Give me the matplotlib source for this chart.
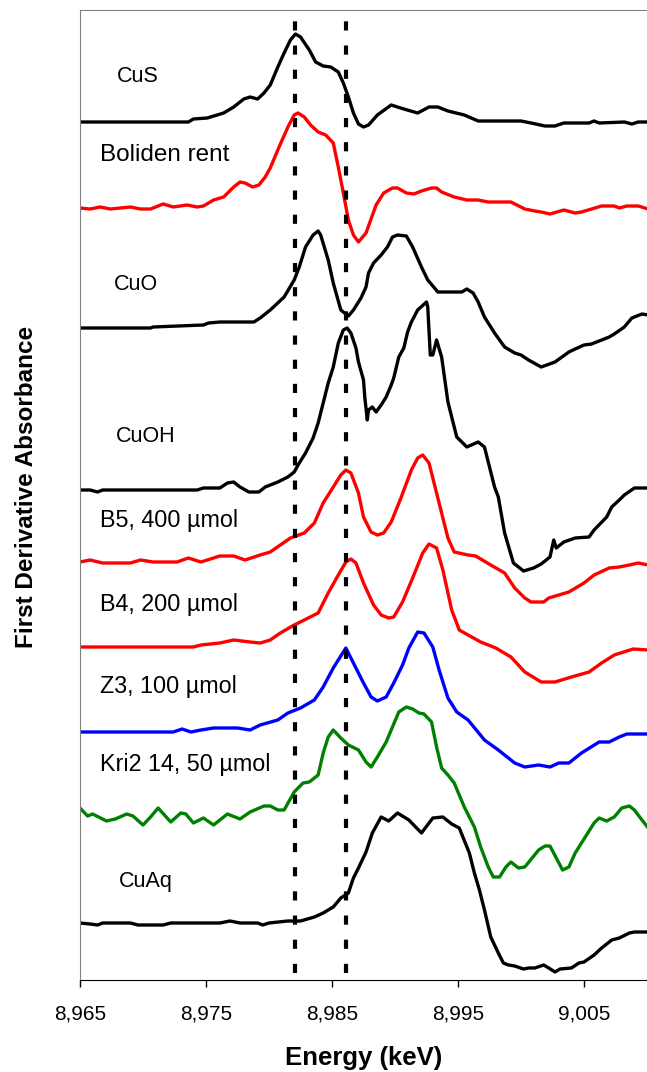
import matplotlib
matplotlib.use("Agg")
import matplotlib.pyplot as plt
from matplotlib.ticker import FuncFormatter

plt.rcParams['font.family'] = ['Liberation Sans', 'DejaVu Sans']

# spectra (energy in keV, stacked first-derivative, arbitrary units)
cus_e = [8965.0, 8973.6, 8974.0, 8975.1, 8976.4, 8977.2, 8978.0, 8978.5, 8979.1, 8979.6, 8980.1, 8980.7,
         8981.2, 8981.7, 8982.1, 8982.5, 8983.2, 8983.7, 8984.3, 8984.9, 8985.5, 8985.9, 8986.3, 8986.7,
         8987.1, 8987.5, 8987.9, 8988.6, 8989.7, 8990.7, 8991.8, 8992.7, 8993.4, 8994.2, 8995.5, 8996.6,
         9000.0, 9000.8, 9001.9, 9002.7, 9003.4, 9005.4, 9005.8, 9006.2, 9008.2, 9008.8, 9009.3, 9010.0]
cus_y = [858, 858, 861, 862, 867, 873, 881, 883, 881, 887, 895, 913,
         927, 940, 946, 943, 930, 918, 914, 913, 908, 897, 883, 867,
         856, 853, 855, 865, 875, 871, 867, 873, 873, 869, 865, 859,
         859, 857, 854, 854, 857, 857, 859, 857, 858, 856, 858, 858]

boliden_e = [8965.0, 8965.8, 8966.6, 8967.4, 8968.2, 8969.0, 8969.8, 8970.6, 8971.6, 8972.4, 8973.5, 8974.3,
             8974.8, 8975.6, 8976.4, 8977.2, 8977.7, 8978.1, 8978.7, 8979.2, 8979.7, 8980.1, 8980.8, 8981.5,
             8982.0, 8982.3, 8982.8, 8983.3, 8983.9, 8984.5, 8985.1, 8985.5, 8985.9, 8986.3, 8986.7, 8987.1,
             8987.7, 8988.5, 8989.1, 8989.8, 8990.2, 8990.9, 8991.5, 8992.1, 8992.9, 8993.3, 8993.7, 8994.7,
             8995.7, 8996.6, 8997.4, 8999.2, 9000.3, 9001.1, 9001.6, 9002.3, 9003.4, 9004.3, 9004.8, 9006.4,
             9007.4, 9007.8, 9008.4, 9009.3, 9010.1]
boliden_y = [772, 771, 773, 771, 772, 773, 771, 771, 776, 773, 775, 773,
             774, 780, 783, 793, 798, 797, 793, 795, 803, 812, 833, 853,
             865, 867, 863, 855, 848, 845, 837, 813, 787, 760, 745, 738,
             747, 775, 787, 792, 792, 787, 786, 789, 792, 792, 788, 783,
             780, 780, 778, 778, 771, 769, 768, 766, 770, 767, 768, 774,
             774, 772, 774, 774, 771]

cuo_e = [8965.0, 8970.6, 8970.8, 8974.8, 8975.2, 8976.1, 8978.8, 8979.3, 8980.1, 8981.2, 8982.0, 8982.4,
         8982.9, 8983.5, 8983.9, 8984.1, 8984.7, 8985.1, 8985.7, 8986.3, 8986.7, 8987.3, 8987.7, 8987.9,
         8988.3, 8988.9, 8989.4, 8989.8, 8990.2, 8990.9, 8991.4, 8992.1, 8992.6, 8993.4, 8995.3, 8995.7,
         8996.2, 8996.6, 8997.1, 8997.9, 8998.7, 8999.5, 9000.0, 9000.6, 9001.6, 9002.7, 9003.8, 9004.3,
         9005.0, 9005.6, 9006.4, 9007.0, 9007.4, 9008.2, 9008.8, 9009.6, 9010.1]
cuo_y = [652, 652, 653, 655, 657, 658, 658, 662, 670, 683, 700, 713,
         733, 745, 749, 745, 720, 697, 670, 664, 670, 682, 693, 707,
         717, 725, 733, 743, 745, 744, 733, 713, 700, 688, 688, 691,
         687, 678, 663, 647, 633, 627, 625, 620, 613, 618, 628, 631,
         635, 636, 640, 643, 646, 653, 662, 666, 665]

cuoh_e = [8965.0, 8965.8, 8966.4, 8966.8, 8974.3, 8974.8, 8976.1, 8976.7, 8977.2, 8977.7, 8978.4, 8979.2,
          8979.7, 8980.7, 8981.5, 8982.0, 8982.4, 8982.9, 8983.5, 8983.9, 8984.3, 8984.7, 8985.1, 8985.5,
          8985.9, 8986.2, 8986.5, 8986.9, 8987.1, 8987.5, 8987.6, 8987.8, 8987.9, 8988.2, 8988.5, 8988.9,
          8989.3, 8989.7, 8989.9, 8990.3, 8990.7, 8991.0, 8991.3, 8991.8, 8992.5, 8992.6, 8992.8, 8993.0,
          8993.3, 8993.7, 8994.2, 8994.9, 8995.7, 8996.6, 8997.1, 8997.5, 8997.9, 8998.2, 8998.7, 8999.4,
          9000.2, 9001.0, 9001.6, 9002.3, 9002.6, 9002.8, 9003.4, 9004.3, 9005.4, 9005.8, 9006.8, 9007.2,
          9007.8, 9008.2, 9009.0, 9010.1]
cuoh_y = [490, 490, 488, 490, 490, 492, 492, 497, 498, 493, 488, 488,
          493, 498, 503, 508, 517, 527, 542, 557, 577, 597, 613, 637,
          650, 652, 647, 632, 618, 600, 583, 560, 570, 573, 568, 575,
          583, 595, 602, 623, 632, 648, 658, 670, 678, 673, 625, 625,
          640, 623, 578, 543, 533, 538, 533, 513, 493, 483, 447, 417,
          409, 412, 416, 423, 440, 432, 438, 442, 443, 450, 463, 473,
          480, 485, 492, 492]

b5_e = [8965.0, 8965.8, 8966.8, 8969.0, 8969.8, 8970.8, 8972.7, 8973.6, 8974.6, 8976.1, 8977.2, 8978.1,
        8979.3, 8980.1, 8980.9, 8981.7, 8982.8, 8983.6, 8984.3, 8985.1, 8985.7, 8986.1, 8986.5, 8987.1,
        8987.5, 8988.1, 8988.6, 8989.1, 8989.7, 8990.5, 8991.3, 8991.8, 8992.2, 8992.7, 8993.1, 8993.7,
        8994.2, 8994.7, 8995.8, 8996.4, 8997.6, 8998.7, 8999.5, 9000.3, 9000.8, 9001.8, 9002.2, 9003.8,
        9005.0, 9005.8, 9007.0, 9007.8, 9008.6, 9009.3, 9010.1]
b5_y = [418, 420, 417, 417, 420, 418, 418, 422, 418, 424, 424, 420,
        425, 428, 435, 442, 447, 457, 477, 493, 505, 510, 507, 487,
        463, 448, 445, 447, 458, 483, 510, 522, 525, 517, 497, 467,
        442, 428, 425, 424, 415, 407, 392, 382, 378, 378, 382, 388,
        397, 405, 412, 413, 415, 417, 415]

b4_e = [8965.0, 8974.0, 8974.6, 8976.1, 8977.2, 8978.5, 8979.3, 8980.1, 8980.9, 8982.0, 8982.8, 8983.9,
        8984.7, 8985.5, 8986.1, 8986.5, 8986.9, 8987.5, 8988.3, 8988.9, 8989.5, 8989.9, 8990.6, 8991.4,
        8992.2, 8992.7, 8993.3, 8993.8, 8994.5, 8995.1, 8995.8, 8996.8, 8998.0, 8999.2, 9000.3, 9001.6,
        9002.7, 9004.0, 9005.4, 9006.4, 9007.4, 9008.9, 9010.1]
b4_y = [333, 333, 335, 337, 340, 338, 337, 340, 347, 355, 360, 367,
        387, 405, 418, 421, 417, 397, 375, 365, 362, 363, 378, 402,
        427, 436, 432, 410, 370, 350, 345, 338, 332, 323, 308, 298,
        298, 303, 308, 317, 325, 331, 330]

z3_e = [8965.0, 8972.4, 8973.1, 8973.8, 8974.6, 8975.6, 8977.5, 8978.5, 8979.3, 8980.7, 8981.5, 8982.5,
        8983.6, 8984.3, 8985.1, 8985.9, 8986.1, 8986.7, 8987.1, 8987.5, 8988.1, 8988.6, 8989.3, 8989.9,
        8990.6, 8991.1, 8991.8, 8992.3, 8993.0, 8993.5, 8994.2, 8994.9, 8995.8, 8997.1, 8998.2, 8999.5,
        9000.3, 9001.4, 9002.3, 9003.0, 9003.8, 9004.8, 9006.2, 9007.0, 9007.8, 9008.4, 9010.1]
z3_y = [248, 248, 251, 248, 250, 252, 252, 250, 255, 260, 267, 272,
        280, 293, 312, 328, 332, 317, 307, 297, 283, 279, 283, 297,
        315, 332, 348, 347, 333, 310, 282, 268, 260, 240, 230, 217,
        213, 215, 213, 217, 217, 227, 238, 238, 243, 246, 246]

kri2_e = [8965.0, 8965.6, 8966.0, 8967.1, 8967.8, 8968.7, 8969.2, 8970.0, 8970.6, 8971.2, 8972.2, 8973.0,
          8973.4, 8974.0, 8974.8, 8975.6, 8976.7, 8977.7, 8978.5, 8979.6, 8980.1, 8980.7, 8981.2, 8982.0,
          8982.7, 8983.2, 8983.9, 8984.3, 8984.7, 8985.1, 8985.7, 8986.3, 8987.1, 8987.7, 8988.1, 8988.6,
          8989.3, 8989.8, 8990.3, 8990.9, 8991.4, 8991.9, 8992.3, 8992.9, 8993.3, 8993.7, 8994.2, 8994.7,
          8995.5, 8996.3, 8996.8, 8997.4, 8997.8, 8998.3, 8998.8, 8999.2, 8999.8, 9000.3, 9001.4, 9001.9,
          9002.3, 9003.3, 9003.8, 9004.3, 9004.8, 9005.8, 9006.2, 9006.8, 9007.4, 9008.0, 9008.6, 9009.0,
          9009.6, 9010.1]
kri2_y = [172, 164, 166, 159, 161, 166, 164, 155, 163, 172, 158, 167,
          166, 157, 162, 155, 166, 161, 168, 174, 174, 170, 170, 188,
          197, 198, 205, 227, 243, 250, 242, 235, 230, 218, 213, 223,
          238, 253, 268, 273, 271, 267, 266, 258, 233, 212, 205, 197,
          173, 153, 133, 113, 103, 103, 113, 118, 112, 113, 130, 134,
          134, 110, 113, 127, 137, 157, 162, 159, 163, 172, 174, 170,
          160, 152]

cuaq_e = [8965.0, 8965.8, 8966.4, 8966.8, 8969.0, 8969.6, 8971.6, 8972.2, 8976.1, 8976.9, 8977.7, 8979.1,
          8979.5, 8980.0, 8981.5, 8982.5, 8983.6, 8984.3, 8985.1, 8985.7, 8986.3, 8986.7, 8987.1, 8987.7,
          8988.2, 8988.9, 8989.5, 8990.2, 8991.1, 8992.1, 8993.0, 8993.8, 8994.5, 8995.1, 8995.9, 8996.3,
          8996.7, 8997.1, 8997.6, 8998.2, 8998.6, 8999.0, 8999.5, 9000.2, 9000.6, 9001.1, 9001.8, 9002.2,
          9002.7, 9003.1, 9004.0, 9004.6, 9005.0, 9005.8, 9006.4, 9007.2, 9007.8, 9008.6, 9009.0, 9010.1]
cuaq_y = [57, 56, 55, 57, 57, 55, 55, 57, 57, 59, 57, 57,
          55, 57, 59, 59, 63, 67, 73, 82, 87, 102, 112, 128,
          147, 163, 159, 167, 160, 147, 162, 163, 156, 152, 127, 107,
          90, 70, 43, 27, 17, 15, 14, 11, 12, 12, 15, 12,
          8, 11, 12, 17, 18, 25, 32, 40, 42, 47, 48, 48]

# reference edges marked with dotted lines
edge_lines = [8982.1, 8986.1]

# label text, anchor energy, level, alignment, size
labels = [("CuS", 8969.6, 903, "center", 15.5),
          ("Boliden rent", 8966.6, 825, "left", 17.5),
          ("CuO", 8969.4, 695, "center", 15.5),
          ("CuOH", 8970.2, 543, "center", 15.5),
          ("B5, 400 µmol", 8966.6, 460, "left", 16.8),
          ("B4, 200 µmol", 8966.6, 375, "left", 16.8),
          ("Z3, 100 µmol", 8966.6, 293, "left", 16.8),
          ("Kri2 14, 50 µmol", 8966.6, 215, "left", 16.8),
          ("CuAq", 8970.2, 98, "center", 15.5)]

x_ticks = [8965, 8975, 8985, 8995, 9005]

fig = plt.figure(figsize=(6.47, 10.72), dpi=100)
ax = fig.add_axes([80 / 647, 1 - 980 / 1072, 567 / 647, 970 / 1072])

series = [(cus_e, cus_y, "black"), (boliden_e, boliden_y, "#ff0000"), (cuo_e, cuo_y, "black"),
          (cuoh_e, cuoh_y, "black"), (b5_e, b5_y, "#ff0000"), (b4_e, b4_y, "#ff0000"),
          (z3_e, z3_y, "#0000ff"), (kri2_e, kri2_y, "#008000"), (cuaq_e, cuaq_y, "black")]
for e, y, c in series:
    ax.plot(e, y, color=c, lw=2.4, solid_joinstyle="round")

for x in edge_lines:
    ax.plot([x, x], [7, 960], color="black", lw=3.0, linestyle=(0, (2.2, 3.6)))

for text, x, y, ha, size in labels:
    ax.text(x, y, text, ha=ha, va="center", fontsize=size)

ax.set_xlim(8965, 9010)
ax.set_ylim(0, 970)
ax.set_xticks(x_ticks)
ax.xaxis.set_major_formatter(FuncFormatter(lambda v, p: f"{v:,.0f}"))
ax.set_yticks([])
ax.tick_params(axis="x", direction="out", length=5, width=1, labelsize=15, pad=13)

ax.spines["right"].set_visible(False)
ax.spines["top"].set_color("#808080")
ax.spines["left"].set_color("#808080")
ax.spines["bottom"].set_color("black")

ax.set_xlabel("Energy (keV)", fontsize=18.5, fontweight="bold", labelpad=16)
ax.set_ylabel("First Derivative Absorbance", fontsize=17.5, fontweight="bold")
ax.yaxis.set_label_coords(-0.074, 0.508)

fig.savefig("out.png", dpi=100)
